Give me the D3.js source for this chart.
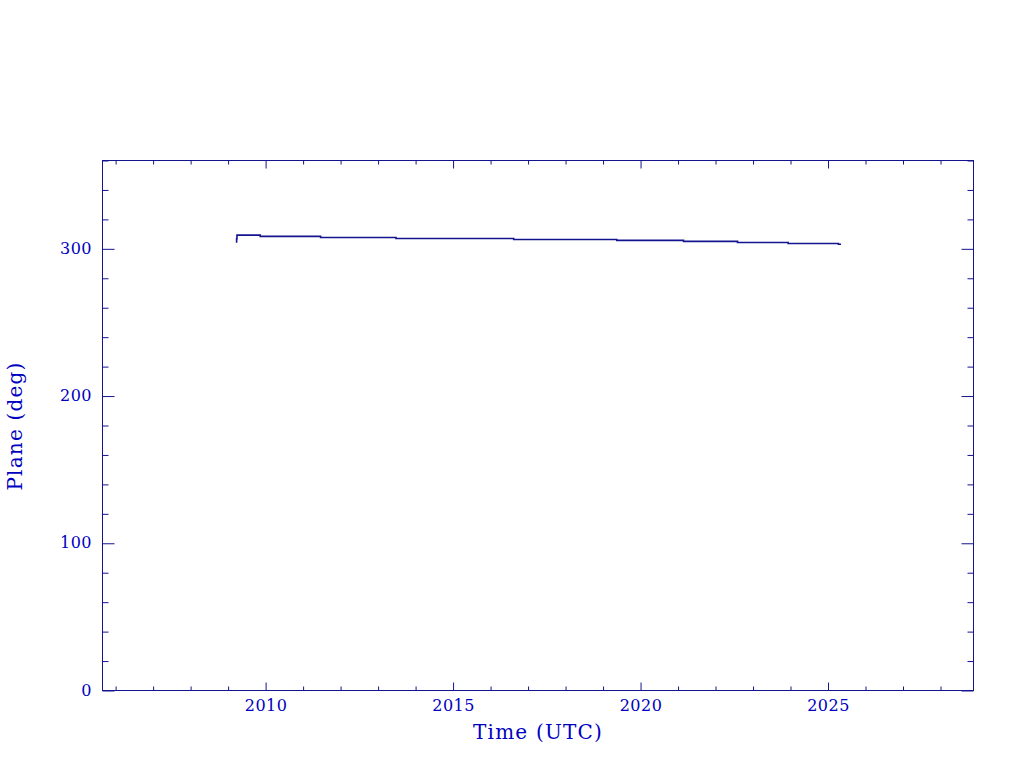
<!DOCTYPE html>
<html>
<head>
<meta charset="utf-8">
<script src="https://cdn.jsdelivr.net/npm/d3@7/dist/d3.min.js"></script>
<style>
  html, body { margin: 0; padding: 0; background: #fff; }
  svg { display: block; }
</style>
</head>
<body>
<svg id="chart" width="1024" height="768"></svg>
<script>
// Data: decimal year, plane angle (deg)
const years  = [2009.22, 2009.24, 2009.25, 2009.87, 2011.48, 2013.49, 2016.63, 2019.38, 2021.16, 2022.60, 2023.95, 2025.29, 2025.36];
const planes = [304.4,   306.5,   309.0,   308.1,   307.4,   306.7,   306.0,   305.4,   304.7,   304.0,   303.3,   302.8,   302.8];
const xMajorTicks = [2010, 2015, 2020, 2025];
const yMajorTicks = [0, 100, 200, 300];
const xLabel = "Time (UTC)";
const yLabel = "Plane (deg)";

const axisColor = "#14148f";
const textColor = "#0000c0";
const lineColor = "#14148f";

const svg = d3.select("#chart");
const m = { left: 102, top: 160, right: 973, bottom: 690 };
const x = d3.scaleLinear().domain([2005.65, 2028.88]).range([m.left, m.right]);
const y = d3.scaleLinear().domain([0, 360]).range([m.bottom, m.top]);

const xMinor = d3.range(2006, 2029).filter(v => !xMajorTicks.includes(v));
const yMinor = d3.range(0, 361, 20).filter(v => !yMajorTicks.includes(v));

function styleAxis(g) {
  g.select(".domain").remove();
  g.selectAll("line").attr("stroke", axisColor).attr("stroke-width", 1);
  g.selectAll("text").attr("fill", textColor)
    .style("font-family", "'DejaVu Serif', serif").style("font-size", "16px");
}

// frame
svg.append("rect").attr("x", m.left + 0.5).attr("y", m.top + 0.5)
  .attr("width", m.right - m.left).attr("height", m.bottom - m.top)
  .attr("fill", "none").attr("stroke", axisColor).attr("stroke-width", 1);

// bottom axis
svg.append("g").attr("transform", `translate(0.5,${m.bottom + 0.5})`)
  .call(d3.axisTop(x).tickValues(xMajorTicks).tickSize(8).tickFormat(""))
  .call(styleAxis);
svg.append("g").attr("transform", `translate(0.5,${m.bottom + 0.5})`)
  .call(d3.axisTop(x).tickValues(xMinor).tickSize(4).tickFormat(""))
  .call(styleAxis);
svg.append("g").attr("transform", `translate(0.5,${m.bottom})`)
  .call(d3.axisBottom(x).tickValues(xMajorTicks).tickSize(0).tickPadding(6).tickFormat(d3.format("d")))
  .call(styleAxis)
  .selectAll("text").attr("dy", "0.95em").style("letter-spacing", "0.5px");
// top axis
svg.append("g").attr("transform", `translate(0.5,${m.top + 0.5})`)
  .call(d3.axisBottom(x).tickValues(xMajorTicks).tickSize(8).tickFormat(""))
  .call(styleAxis);
svg.append("g").attr("transform", `translate(0.5,${m.top + 0.5})`)
  .call(d3.axisBottom(x).tickValues(xMinor).tickSize(4).tickFormat(""))
  .call(styleAxis);

// left axis
svg.append("g").attr("transform", `translate(${m.left + 0.5},0.5)`)
  .call(d3.axisRight(y).tickValues(yMajorTicks).tickSize(12).tickFormat(""))
  .call(styleAxis);
svg.append("g").attr("transform", `translate(${m.left + 0.5},0.5)`)
  .call(d3.axisRight(y).tickValues(yMinor).tickSize(6).tickFormat(""))
  .call(styleAxis);
svg.append("g").attr("transform", `translate(${m.left},0)`)
  .call(d3.axisLeft(y).tickValues(yMajorTicks).tickSize(0).tickPadding(10).tickFormat(d3.format("d")))
  .call(styleAxis)
  .selectAll("text").style("letter-spacing", "0.5px");
// right axis
svg.append("g").attr("transform", `translate(${m.right + 0.5},0.5)`)
  .call(d3.axisLeft(y).tickValues(yMajorTicks).tickSize(12).tickFormat(""))
  .call(styleAxis);
svg.append("g").attr("transform", `translate(${m.right + 0.5},0.5)`)
  .call(d3.axisLeft(y).tickValues(yMinor).tickSize(6).tickFormat(""))
  .call(styleAxis);

// data line (stepped)
const data = years.map((t, i) => ({ t, v: planes[i] }));
svg.append("path").datum(data)
  .attr("fill", "none").attr("stroke", lineColor).attr("stroke-width", 1.6)
  .attr("d", d3.line().x(d => x(d.t)).y(d => y(d.v)).curve(d3.curveStepAfter));

// axis labels
svg.append("text").attr("x", (m.left + m.right) / 2 + 0.5).attr("y", 739)
  .attr("text-anchor", "middle").attr("fill", textColor)
  .style("font-family", "'DejaVu Serif', serif").style("font-size", "20px")
  .style("letter-spacing", "1.2px")
  .text(xLabel);
svg.append("text").attr("transform", "translate(22,426) rotate(-90)")
  .attr("text-anchor", "middle").attr("fill", textColor)
  .style("font-family", "'DejaVu Serif', serif").style("font-size", "20px")
  .style("letter-spacing", "1.2px")
  .text(yLabel);
</script>
</body>
</html>
